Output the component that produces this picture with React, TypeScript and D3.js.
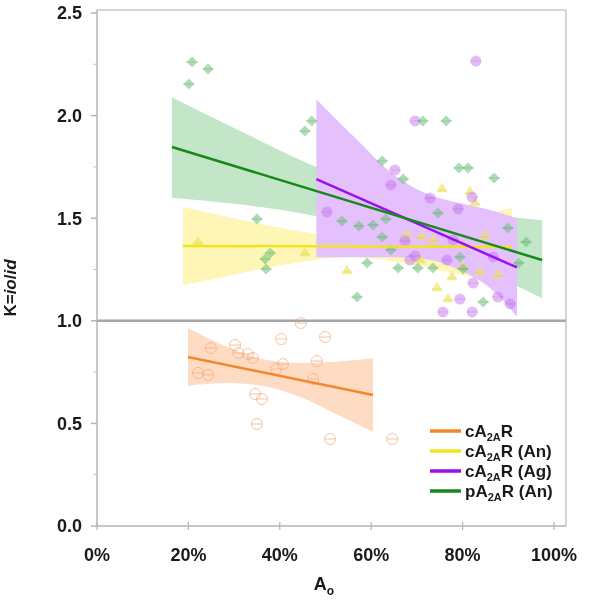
import React from "react";
import * as d3 from "d3";

// ---------- data ----------
const X_TICKS = [0, 0.2, 0.4, 0.6, 0.8, 1.0];
const Y_TICKS = [0, 0.5, 1.0, 1.5, 2.0, 2.5];
const Y_MINOR = [0.25, 0.75, 1.25, 1.75, 2.25];

// pA2AR (An) – green diamonds
const greenPoints: [number, number][] = [
  [0.208, 2.261], [0.243, 2.227], [0.201, 2.154], [0.47, 1.974], [0.455, 1.925],
  [0.713, 1.974], [0.764, 1.974], [0.624, 1.779], [0.67, 1.691], [0.792, 1.745],
  [0.812, 1.745], [0.869, 1.696], [0.746, 1.525], [0.899, 1.452], [0.939, 1.384],
  [0.923, 1.282], [0.794, 1.311], [0.735, 1.257], [0.801, 1.252], [0.845, 1.092],
  [0.536, 1.486], [0.573, 1.462], [0.604, 1.467], [0.632, 1.496], [0.624, 1.408],
  [0.643, 1.345], [0.591, 1.282], [0.659, 1.257], [0.702, 1.257], [0.569, 1.116],
  [0.35, 1.496], [0.379, 1.33], [0.368, 1.301], [0.37, 1.252],
];
// cA2AR (Ag) – purple circles
const purplePoints: [number, number][] = [
  [0.696, 1.974], [0.829, 2.266], [0.652, 1.735], [0.643, 1.662], [0.729, 1.598],
  [0.821, 1.603], [0.79, 1.545], [0.779, 1.394], [0.766, 1.296], [0.867, 1.311],
  [0.823, 1.184], [0.794, 1.106], [0.757, 1.043], [0.821, 1.043], [0.877, 1.116],
  [0.904, 1.082], [0.503, 1.53], [0.674, 1.389], [0.685, 1.296], [0.696, 1.316],
];
// cA2AR (An) – yellow triangles
const yellowPoints: [number, number][] = [
  [0.755, 1.642], [0.816, 1.628], [0.827, 1.574], [0.711, 1.408], [0.735, 1.394],
  [0.849, 1.413], [0.801, 1.262], [0.777, 1.213], [0.838, 1.238], [0.877, 1.223],
  [0.744, 1.16], [0.768, 1.106], [0.221, 1.384], [0.455, 1.33], [0.547, 1.243],
  [0.678, 1.418], [0.707, 1.296],
];
// cA2AR – orange open circles
const orangePoints: [number, number][] = [
  [0.446, 0.989], [0.499, 0.921], [0.403, 0.911], [0.249, 0.867], [0.302, 0.882],
  [0.309, 0.843], [0.33, 0.838], [0.341, 0.819], [0.481, 0.804], [0.407, 0.789],
  [0.392, 0.765], [0.221, 0.746], [0.243, 0.736], [0.473, 0.716], [0.346, 0.643],
  [0.361, 0.619], [0.35, 0.497], [0.51, 0.424], [0.646, 0.424],
];

// fitted lines (endpoints)
const orangeFit: [number, number][] = [[0.199, 0.824], [0.604, 0.638]];
const yellowFit: [number, number][] = [[0.188, 1.365], [0.908, 1.36]];
const purpleFit: [number, number][] = [[0.48, 1.69], [0.919, 1.26]];
const greenFit: [number, number][] = [[0.164, 1.847], [0.974, 1.296]];

// confidence bands
const orangeBandX = [0.199, 0.28, 0.37, 0.45, 0.52, 0.604];
const orangeBandHi = [0.965, 0.877, 0.81, 0.794, 0.8, 0.818];
const orangeBandLo = [0.683, 0.697, 0.68, 0.624, 0.55, 0.458];

const yellowBandX = [0.188, 0.3, 0.4, 0.55, 0.7, 0.8, 0.908];
const yellowBandHi = [1.555, 1.5, 1.453, 1.41, 1.452, 1.497, 1.55];
const yellowBandLo = [1.175, 1.225, 1.27, 1.31, 1.27, 1.223, 1.17];

const purpleBandX = [0.48, 0.57, 0.65, 0.72, 0.8, 0.86, 0.919];
const purpleBandHi = [2.08, 1.88, 1.71, 1.62, 1.57, 1.54, 1.5];
const purpleBandLo = [1.31, 1.31, 1.31, 1.3, 1.24, 1.16, 1.02];

const greenBandX = [0.164, 0.3, 0.48, 0.63, 0.8, 0.974];
const greenBandHi = [2.09, 1.94, 1.75, 1.625, 1.54, 1.49];
const greenBandLo = [1.6, 1.57, 1.51, 1.43, 1.29, 1.11];

const legendItems = [
  { prefix: "cA", suffix: "R", extra: "", color: "#f5862b" },
  { prefix: "cA", suffix: "R", extra: " (An)", color: "#f2e41a" },
  { prefix: "cA", suffix: "R", extra: " (Ag)", color: "#9a10ea" },
  { prefix: "pA", suffix: "R", extra: " (An)", color: "#16891c" },
];

// ---------- layout ----------
const W = 594;
const H = 600;
const X0 = 97;
const X1 = 554;
const FRAME_R = 566;
const Y0 = 526;
const Y1 = 13;
const FRAME_T = 10;
const FONT = "'Liberation Sans', Arial, sans-serif";

export default function App() {
  const x = d3.scaleLinear().domain([0, 1]).range([X0, X1]);
  const y = d3.scaleLinear().domain([0, 2.5]).range([Y0, Y1]);

  const band = (xs: number[], hi: number[], lo: number[]) =>
    d3
      .area<number>()
      .x((_, i) => x(xs[i]))
      .y0((_, i) => y(lo[i]))
      .y1((_, i) => y(hi[i]))
      .curve(d3.curveMonotoneX)(xs) || "";

  const line = d3
    .line<[number, number]>()
    .x((d) => x(d[0]))
    .y((d) => y(d[1]));

  const diamond = d3.symbol().type(d3.symbolSquare).size(60)() || "";
  const triangle = d3.symbol().type(d3.symbolTriangle).size(55)() || "";

  return (
    <svg
      width={W}
      height={H}
      style={{ position: "absolute", left: 0, top: 0, background: "#fff" }}
      fontFamily={FONT}
    >
      {/* frame */}
      <line x1={X0} x2={FRAME_R} y1={FRAME_T} y2={FRAME_T} stroke="#c8c8c8" strokeWidth={1.5} />
      <line x1={FRAME_R} x2={FRAME_R} y1={FRAME_T} y2={Y0} stroke="#c8c8c8" strokeWidth={1.5} />

      {/* bands */}
      <g style={{ mixBlendMode: "multiply" } as any}>
        <path d={band(orangeBandX, orangeBandHi, orangeBandLo)} fill="#fddcc3" />
        <path d={band(yellowBandX, yellowBandHi, yellowBandLo)} fill="#fdf6b6" />
        <path d={band(greenBandX, greenBandHi, greenBandLo)} fill="#c4e6c8" />
        <path d={band(purpleBandX, purpleBandHi, purpleBandLo)} fill="#e4c0fc" />
      </g>

      {/* points */}
      <g>
        {orangePoints.map((d, i) => (
          <g key={"o" + i} transform={`translate(${x(d[0])},${y(d[1])})`} opacity={0.7}>
            <circle r={5.5} fill="none" stroke="#f5a878" strokeWidth={1} />
            <line x1={-5} x2={5} y1={0} y2={0} stroke="#f5a878" strokeWidth={1} />
          </g>
        ))}
        {yellowPoints.map((d, i) => (
          <g key={"y" + i} transform={`translate(${x(d[0])},${y(d[1])})`} opacity={0.65}>
            <path d={triangle} fill="#f1e45a" />
            <line x1={-5} x2={5} y1={1} y2={1} stroke="#e0d040" strokeWidth={1} />
          </g>
        ))}
        {purplePoints.map((d, i) => (
          <g key={"p" + i} transform={`translate(${x(d[0])},${y(d[1])})`} opacity={0.5}>
            <circle r={5.5} fill="#c77af2" />
            <line x1={-5.5} x2={5.5} y1={0} y2={0} stroke="#a950dc" strokeWidth={1} />
          </g>
        ))}
        {greenPoints.map((d, i) => (
          <g key={"g" + i} transform={`translate(${x(d[0])},${y(d[1])})`} opacity={0.55}>
            <path d={diamond} fill="#6cc27a" transform="rotate(45)" />
            <line x1={-5.5} x2={5.5} y1={0} y2={0} stroke="#3f9a4c" strokeWidth={1} />
          </g>
        ))}
      </g>

      {/* fitted lines */}
      <path d={line(orangeFit) || ""} stroke="#f5862b" strokeWidth={2.5} fill="none" />
      <path d={line(yellowFit) || ""} stroke="#f2e41a" strokeWidth={2.5} fill="none" />
      <path d={line(purpleFit) || ""} stroke="#9a10ea" strokeWidth={2.5} fill="none" />
      <path d={line(greenFit) || ""} stroke="#16891c" strokeWidth={2.5} fill="none" />

      {/* reference line at 1.0 */}
      <line x1={X0} x2={FRAME_R} y1={y(1)} y2={y(1)} stroke="#a6a6a6" strokeWidth={2.5} />

      {/* y axis */}
      <line x1={X0} x2={X0} y1={FRAME_T} y2={Y0} stroke="#b5b5b5" strokeWidth={1.5} />
      {Y_TICKS.map((t) => (
        <g key={"yt" + t}>
          <line x1={X0 - 6} x2={X0} y1={y(t)} y2={y(t)} stroke="#b5b5b5" strokeWidth={1.5} />
          <text
            x={X0 - 15}
            y={y(t)}
            dy="0.36em"
            textAnchor="end"
            fontSize={18}
            fontWeight="bold"
            fill="#1a1a1a"
          >
            {t.toFixed(1)}
          </text>
        </g>
      ))}
      {Y_MINOR.map((t) => (
        <line key={"ym" + t} x1={X0 - 4} x2={X0} y1={y(t)} y2={y(t)} stroke="#c5c5c5" strokeWidth={1} />
      ))}

      {/* x axis */}
      <line x1={X0} x2={FRAME_R} y1={Y0} y2={Y0} stroke="#b5b5b5" strokeWidth={1.5} />
      {X_TICKS.map((t) => (
        <g key={"xt" + t}>
          <line x1={x(t)} x2={x(t)} y1={Y0 - 4} y2={Y0 + 4} stroke="#b5b5b5" strokeWidth={1.2} />
          <text
            x={x(t)}
            y={561}
            textAnchor="middle"
            fontSize={18}
            fontWeight="bold"
            fill="#1a1a1a"
          >
            {d3.format(".0%")(t)}
          </text>
        </g>
      ))}

      {/* axis titles */}
      <text x={324} y={590} textAnchor="middle" fontSize={18} fontWeight="bold" fill="#1a1a1a">
        A<tspan fontSize={12} dy={5}>o</tspan>
      </text>
      <text
        transform={`translate(16,${288}) rotate(-90)`}
        textAnchor="middle"
        fontSize={17}
        fontWeight="bold"
        fill="#1a1a1a"
      >
        K=<tspan fontStyle="italic">io</tspan>/<tspan fontStyle="italic">id</tspan>
      </text>

      {/* legend */}
      {legendItems.map((it, i) => {
        const cy = 431 + i * 20;
        return (
          <g key={"lg" + i}>
            <line x1={430} x2={461} y1={cy} y2={cy} stroke={it.color} strokeWidth={3.5} />
            <text x={465} y={cy} dy="0.36em" fontSize={17} fontWeight="bold" fill="#1a1a1a">
              {it.prefix}
              <tspan fontSize={11} dy={4}>2A</tspan>
              <tspan dy={-4}>{it.suffix + it.extra}</tspan>
            </text>
          </g>
        );
      })}
    </svg>
  );
}
